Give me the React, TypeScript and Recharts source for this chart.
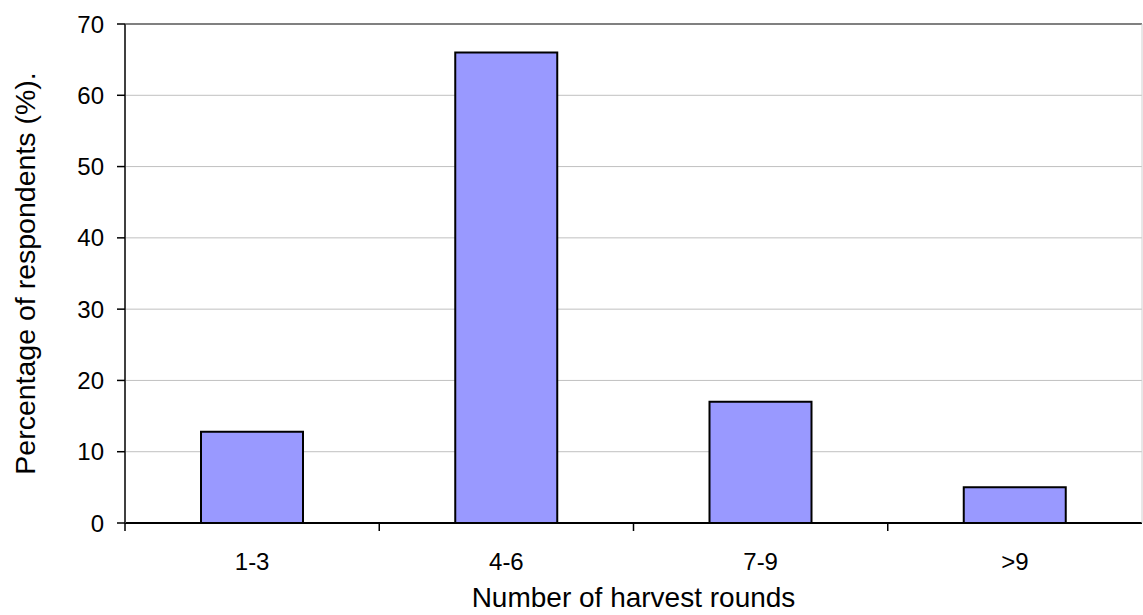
import {Bar, BarChart, CartesianGrid, Label, ReferenceLine, XAxis, YAxis} from "recharts";

const rounds = ["1-3", "4-6", "7-9", ">9"];
const respondentsPct = [12.8, 66, 17, 5];
const pctTicks = [0, 10, 20, 30, 40, 50, 60, 70];

const data = rounds.map((r, i) => ({rounds: r, pct: respondentsPct[i]}));

const FONT = '"Liberation Sans", Arial, sans-serif';
const W = 1143;
const H = 615;
const Y_AXIS_W = 125;
const BAND = (W - Y_AXIS_W - 1) / rounds.length;
const TICK_GAP = 30;

// category label plus a tick mark on the left edge of each band
function RoundTick(props: any) {
  const {x, y, payload} = props;
  const axisY = y - TICK_GAP;
  const edge = x - BAND / 2;
  return (
    <g>
      <line x1={edge} x2={edge} y1={axisY} y2={axisY + 8} stroke="#000" strokeWidth={1.5} />
      <text x={x} y={y} dy="0.71em" textAnchor="middle" fontSize={24} fontFamily={FONT} fill="#000">
        {payload.value}
      </text>
    </g>
  );
}

export default function App() {
  return (
    <div style={{position: "absolute", left: 0, top: 0, width: W, height: H, background: "#fff"}}>
      <BarChart width={W} height={H} data={data} margin={{top: 24, right: 0, bottom: 32, left: 0}}>
        <CartesianGrid vertical={false} stroke="#c0c0c0" strokeWidth={1} />
        <XAxis
          dataKey="rounds"
          height={60}
          axisLine={{stroke: "#000", strokeWidth: 2}}
          tickLine={false}
          tickSize={8}
          tickMargin={22}
          tick={<RoundTick />}
          interval={0}
        >
          <Label
            content={({viewBox}: any) => (
              <text
                x={viewBox.x + viewBox.width / 2}
                y={viewBox.y + 84}
                textAnchor="middle"
                fontSize={28}
                fontFamily={FONT}
                fill="#000"
              >
                Number of harvest rounds
              </text>
            )}
          />
        </XAxis>
        <YAxis
          width={Y_AXIS_W}
          domain={[0, 70]}
          ticks={pctTicks}
          interval={0}
          axisLine={{stroke: "#404040", strokeWidth: 2}}
          tickLine={{stroke: "#000", strokeWidth: 1.5}}
          tickSize={8}
          tickMargin={13}
          tick={{fontSize: 24, fontFamily: FONT, fill: "#000"}}
        >
          <Label
            content={({viewBox}: any) => {
              const cy = viewBox.y + viewBox.height / 2;
              return (
                <text
                  x={35}
                  y={cy}
                  transform={`rotate(-90, 35, ${cy})`}
                  textAnchor="middle"
                  fontSize={28.5}
                  fontFamily={FONT}
                  fill="#000"
                >
                  Percentage of respondents (%).
                </text>
              );
            }}
          />
        </YAxis>
        <YAxis
          yAxisId="frame"
          orientation="right"
          width={1}
          domain={[0, 70]}
          tick={false}
          tickLine={false}
          axisLine={{stroke: "#d0d0d0", strokeWidth: 1}}
        />
        <ReferenceLine y={70} stroke="#808080" strokeWidth={2} />
        <Bar dataKey="pct" barSize={102} fill="#9999ff" stroke="#000" strokeWidth={2} isAnimationActive={false} />
      </BarChart>
    </div>
  );
}
